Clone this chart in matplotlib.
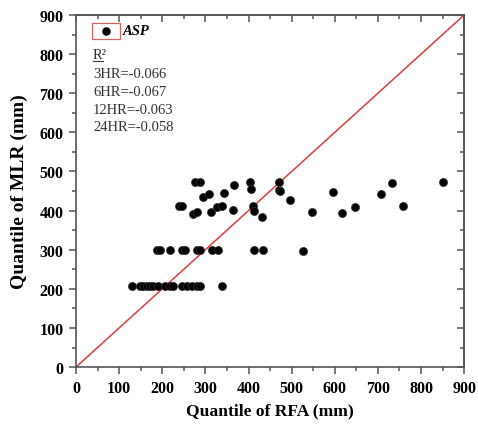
import numpy as np
import matplotlib
matplotlib.use("Agg")
import matplotlib.pyplot as plt
from matplotlib.patches import Rectangle
from matplotlib.ticker import MultipleLocator

plt.rcParams['font.family'] = ['Liberation Serif', 'DejaVu Serif']

# quantiles (RFA on x, MLR on y)
rfa_q = [276, 288, 367, 404, 405, 471, 471, 294, 309, 343, 496, 239, 245,
         272, 280, 313, 328, 338, 363, 411, 413, 432,
         473, 547, 526, 595, 616, 647, 707, 732, 758, 850,
         187, 194, 218, 245, 253, 280, 288, 315, 330, 413, 434,
         131, 148, 156, 164, 172, 179, 191, 206, 218, 226, 245, 257, 268,
         280, 288, 338]
mlr_q = [472, 472, 465, 474, 455, 472, 453, 434, 442, 444, 428, 412, 412,
         391, 396, 396, 408, 412, 401, 411, 398, 384,
         451, 396, 297, 447, 393, 410, 442, 470, 411, 472,
         300, 300, 300, 300, 300, 300, 300, 300, 300, 300, 300,
         208, 208, 208, 208, 208, 208, 208, 208, 208, 208, 208, 208, 208,
         208, 208, 208]

series_name = "ASP"
r2_labels = ["3HR", "6HR", "12HR", "24HR"]
r2_values = [-0.066, -0.067, -0.063, -0.058]

fig = plt.figure(figsize=(4.78, 4.27), dpi=100)
ax = fig.add_axes([0.159, 0.138, 0.812, 0.8245])

ax.scatter(rfa_q, mlr_q, s=34, color='black', edgecolors='#333333',
           linewidths=0.5, zorder=3)
ax.plot([0, 900], [0, 900], color='#e03c3c', lw=1.1, zorder=2)

ax.set_xlim(0, 900)
ax.set_ylim(0, 900)
spine_col = '#555555'


def style_axis(axis, direction, labels):
    axis.set_major_locator(MultipleLocator(100))
    axis.set_minor_locator(MultipleLocator(50))
    axis.set_tick_params(which='both', direction=direction, color=spine_col,
                         width=1.1)
    axis.set_tick_params(which='major', length=5, pad=4)
    axis.set_tick_params(which='minor', length=3)
    if not labels:
        axis.set_tick_params(which='both', labelleft=False,
                             labelright=False, labeltop=False,
                             labelbottom=False)


# outer ticks on bottom/left, inner ticks mirrored on top/right
style_axis(ax.xaxis, 'out', True)
style_axis(ax.yaxis, 'out', True)
ax.tick_params(labelsize=11.5)
for lab in ax.get_xticklabels() + ax.get_yticklabels():
    lab.set_fontweight('bold')

top = ax.secondary_xaxis('top')
right = ax.secondary_yaxis('right')
style_axis(top.xaxis, 'in', False)
style_axis(right.yaxis, 'in', False)
top.xaxis.set_ticklabels([])
right.yaxis.set_ticklabels([])

for a in (ax, top, right):
    for sp in a.spines.values():
        sp.set_color(spine_col)
        sp.set_linewidth(1.2)

ax.set_xlabel('Quantile of RFA (mm)', fontsize=12.6, fontweight='bold',
              labelpad=5)
ax.set_ylabel('Quantile of MLR (mm)', fontsize=14, fontweight='bold',
              labelpad=8)

# legend-like key in the upper left
ax.add_patch(Rectangle((0.041, 0.932), 0.072, 0.045, transform=ax.transAxes,
                       fill=False, edgecolor='#e06060', lw=0.9))
ax.scatter([0.077], [0.955], s=26, color='black', transform=ax.transAxes)
ax.text(0.121, 0.955, series_name, transform=ax.transAxes, fontsize=10.5,
        fontstyle='italic', fontweight='bold', va='center')
ax.text(0.044, 0.888, 'R\u00b2', transform=ax.transAxes,
        fontsize=10.5, va='center', color='#333333')
ax.plot([0.044, 0.07], [0.868, 0.868], transform=ax.transAxes,
        color='#333333', lw=0.8)
for i, (lab, val) in enumerate(zip(r2_labels, r2_values)):
    ax.text(0.044, 0.835 - 0.051 * i, f'{lab}={val:.3f}',
            transform=ax.transAxes, fontsize=10.5, va='center',
            color='#333333')

fig.savefig('out.png', dpi=100)
